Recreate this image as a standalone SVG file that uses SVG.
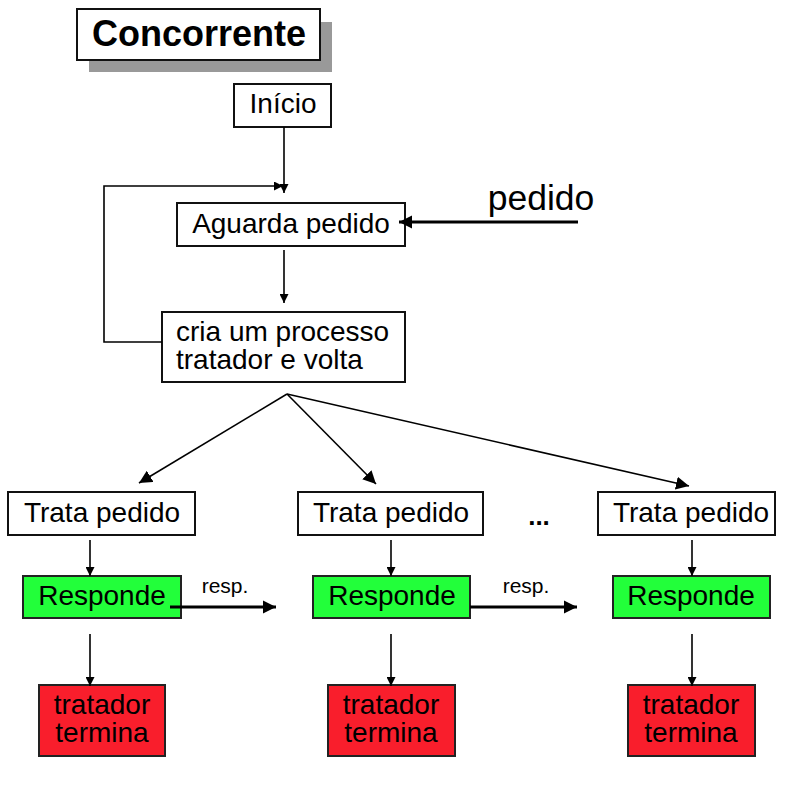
<svg xmlns="http://www.w3.org/2000/svg" width="798" height="791" viewBox="0 0 798 791">
<style>
text{font-family:"Liberation Sans",Arial,sans-serif;fill:#000}
.box{fill:#fff;stroke:#111;stroke-width:2}
.g{fill:#22ff3a;stroke:#222;stroke-width:2}
.r{fill:#f91e2c;stroke:#222;stroke-width:2}
.t{font-size:28px;text-anchor:middle}
.u{font-size:28px;text-anchor:middle}
.c{fill:none;stroke:#000;stroke-width:1.6}
.k{fill:none;stroke:#000;stroke-width:3.2}
</style>
<defs>
<marker id="a" viewBox="0 0 10 10" refX="10" refY="5" markerWidth="9" markerHeight="9" markerUnits="userSpaceOnUse" orient="auto"><path d="M0,0L10,5L0,10Z" fill="#000"/></marker>
<marker id="b" viewBox="0 0 10 10" refX="10" refY="5" markerWidth="4.2" markerHeight="4.2" orient="auto"><path d="M0,0L10,5L0,10Z" fill="#000"/></marker>
<marker id="m" viewBox="0 0 10 10" refX="10" refY="5" markerWidth="13" markerHeight="13" markerUnits="userSpaceOnUse" orient="auto"><path d="M0,0L10,5L0,10Z" fill="#000"/></marker>
</defs>
<g id="title">
<rect x="89" y="22" width="243" height="50" fill="#999"/>
<rect x="77" y="9" width="243" height="51" class="box"/>
<text x="199" y="46" font-size="36" font-weight="bold" text-anchor="middle">Concorrente</text>
</g>
<g id="inicio"><rect x="234" y="84" width="97" height="43" class="box"/><text x="283" y="113" class="t">Início</text></g>
<g id="aguarda"><rect x="177" y="203" width="228" height="43" class="box"/><text x="291" y="233" class="t">Aguarda pedido</text></g>
<g id="cria"><rect x="162" y="312" width="243" height="70" class="box"/><text x="176" y="341" font-size="28">cria um processo</text><text x="176" y="369" font-size="28">tratador e volta</text></g>
<g id="pedido"><text x="541" y="210" font-size="35.5" text-anchor="middle">pedido</text></g>
<g id="trata1"><rect x="8" y="492" width="187" height="43" class="box"/><text x="102" y="522" class="t">Trata pedido</text></g>
<g id="trata2"><rect x="298" y="492" width="185" height="43" class="box"/><text x="391" y="522" class="t">Trata pedido</text></g>
<g id="trata3"><rect x="598" y="492" width="177" height="43" class="box"/><text x="691" y="522" class="t">Trata pedido</text></g>
<g id="dots"><text x="539" y="525" font-size="26" font-weight="bold" text-anchor="middle">...</text></g>
<g id="resp1"><rect x="23" y="576" width="158" height="42" class="g"/><text x="102" y="605" class="t">Responde</text></g>
<g id="resp2"><rect x="313" y="576" width="157" height="42" class="g"/><text x="392" y="605" class="t">Responde</text></g>
<g id="resp3"><rect x="613" y="576" width="157" height="42" class="g"/><text x="691" y="605" class="t">Responde</text></g>
<g id="term1"><rect x="39" y="685" width="126" height="71" class="r"/><text x="102" y="714" class="u">tratador</text><text x="102" y="742" class="u">termina</text></g>
<g id="term2"><rect x="328" y="685" width="127" height="71" class="r"/><text x="391" y="714" class="u">tratador</text><text x="391" y="742" class="u">termina</text></g>
<g id="term3"><rect x="628" y="685" width="127" height="71" class="r"/><text x="691" y="714" class="u">tratador</text><text x="691" y="742" class="u">termina</text></g>
<g id="respLabels"><text x="225" y="593" font-size="21" text-anchor="middle">resp.</text><text x="526" y="593" font-size="21" text-anchor="middle">resp.</text></g>
<g id="connectors">
<path d="M284,127V193" class="c" marker-end="url(#a)"/>
<path d="M162,342H104V186H283" class="c" marker-end="url(#a)"/>
<path d="M578,222H399" class="k" marker-end="url(#b)"/>
<path d="M284,250V303" class="c" marker-end="url(#a)"/>
<path d="M287,394L139,483" class="c" marker-end="url(#m)"/>
<path d="M287,394L376,484" class="c" marker-end="url(#m)"/>
<path d="M287,394L689,486" class="c" marker-end="url(#m)"/>
<path d="M90,540V576" class="c" marker-end="url(#a)"/>
<path d="M391,540V576" class="c" marker-end="url(#a)"/>
<path d="M692,540V576" class="c" marker-end="url(#a)"/>
<path d="M170,607H276" class="k" marker-end="url(#b)"/>
<path d="M470,607H577" class="k" marker-end="url(#b)"/>
<path d="M90,634V686" class="c" marker-end="url(#a)"/>
<path d="M391,634V686" class="c" marker-end="url(#a)"/>
<path d="M692,634V686" class="c" marker-end="url(#a)"/>
</g>
</svg>
